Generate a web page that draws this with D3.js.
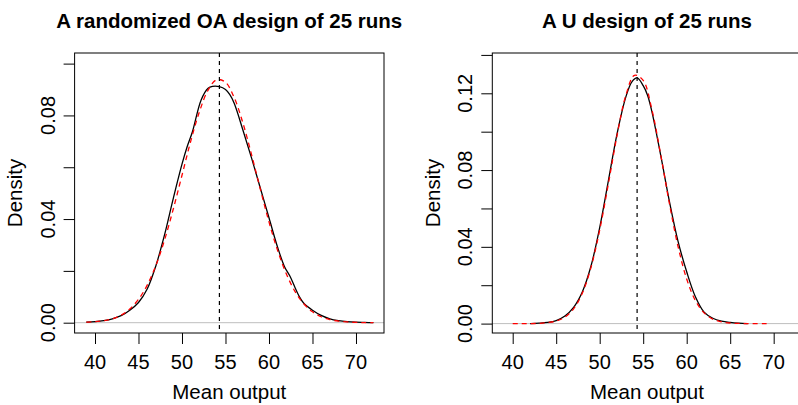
<!DOCTYPE html>
<html>
<head>
<meta charset="utf-8">
<script src="https://cdn.jsdelivr.net/npm/d3@7"></script>
<style>
  body { margin: 0; background: #fff; }
  text { font-family: "Liberation Sans", Arial, Helvetica, sans-serif; fill: #000; }
</style>
</head>
<body>
<div id="chart"></div>
<script>
;(function (d3) {

    'use strict';

    // x ticks are shared by both panels
    var xTicks = [40, 45, 50, 55, 60, 65, 70];
    var meanOutput = 54.3;

    // left panel: randomized OA design
    var oaTitle = 'A randomized OA design of 25 runs';
    var oaYTicks = [0, 0.02, 0.04, 0.06, 0.08, 0.10];
    var oaYLabels = [0, 0.04, 0.08];
    var oaKdeX = [39, 40, 41, 42, 43, 44, 45, 46, 47, 48, 49, 50, 50.6, 51.2, 52.2, 53, 53.5, 54.3,
        55, 55.5, 56, 57, 58, 59, 60, 61, 61.8, 62.4, 63, 63.5, 64, 65, 66, 67, 68, 69, 70, 71, 72];
    var oaKdeY = [0.0002, 0.0004, 0.0008, 0.0015, 0.0027, 0.0048, 0.0078, 0.0130, 0.0220, 0.0340, 0.0480,
        0.0612, 0.0680, 0.0737, 0.0860, 0.0905, 0.0912, 0.0911, 0.0900, 0.0880, 0.0847, 0.0744, 0.0635,
        0.0520, 0.0405, 0.0290, 0.0215, 0.0180, 0.0135, 0.0100, 0.0075, 0.0048, 0.0028, 0.0015, 0.0008,
        0.0004, 0.0002, 0.0001, 0.0000];
    var oaNormX = [39, 40, 41, 42, 43, 44, 45, 46, 47, 48, 49, 50, 51, 52, 53, 54, 55, 56, 57, 58, 59,
        60, 61, 62, 63, 64, 65, 66, 67, 68, 69, 70, 71, 72];
    var oaNormY = [0.0002, 0.0004, 0.0008, 0.0015, 0.0029, 0.0053, 0.0090, 0.0145, 0.0221, 0.0320,
        0.0439, 0.0569, 0.0700, 0.0814, 0.0898, 0.0938, 0.0928, 0.0869, 0.0771, 0.0648, 0.0516, 0.0389,
        0.0278, 0.0188, 0.0120, 0.0073, 0.0042, 0.0023, 0.0012, 0.0006, 0.0003, 0.0001, 0.00005, 0.00002];

    // right panel: U design
    var uTitle = 'A U design of 25 runs';
    var uYTicks = [0, 0.02, 0.04, 0.06, 0.08, 0.10, 0.12, 0.14];
    var uYLabels = [0, 0.04, 0.08, 0.12];
    var uKdeX = [42, 43, 44, 45, 46, 47, 48, 49, 50, 51, 52, 53, 53.7, 54.3, 55, 55.5, 56, 57, 58, 59,
        60, 61, 62, 63, 64, 65, 66, 67];
    var uKdeY = [0.0000, 0.0002, 0.0006, 0.0016, 0.0040, 0.0085, 0.0165, 0.0300, 0.0500, 0.0745, 0.0990,
        0.1180, 0.1260, 0.1280, 0.1240, 0.1190, 0.1105, 0.0880, 0.0640, 0.0430, 0.0270, 0.0140, 0.0060,
        0.0028, 0.0013, 0.0006, 0.0002, 0.0000];
    var uNormX = [40, 41, 42, 43, 44, 45, 46, 47, 48, 49, 50, 51, 52, 53, 54, 55, 56, 57, 58, 59, 60,
        61, 62, 63, 64, 65, 66, 67, 68, 69, 69.5];
    var uNormY = [0.0000, 0.0000, 0.0000, 0.0001, 0.0005, 0.0013, 0.0034, 0.0077, 0.0158, 0.0293,
        0.0488, 0.0729, 0.0982, 0.1188, 0.1294, 0.1267, 0.1115, 0.0883, 0.0629, 0.0403, 0.0232, 0.0120,
        0.0056, 0.0023, 0.0009, 0.0003, 0.0001, 0.0000, 0.0000, 0.0000, 0.0000];

    var W = 798, H = 405;
    var boxW = 309.4, boxTop = 53, boxBottom = 333;
    var xDomain = [37.655, 73.22];

    var svg = d3.select('#chart').append('svg')
        .attr('width', W)
        .attr('height', H);

    function zip(xs, ys) {
        return xs.map(function (x, i) { return [x, ys[i]]; });
    }

    function panel(left, title, yDomain, yTicks, yLabels, kde, norm) {
        var x = d3.scaleLinear().domain(xDomain).range([left, left + boxW]);
        var y = d3.scaleLinear().domain(yDomain).range([boxBottom, boxTop]);
        var g = svg.append('g');

        // zero line
        g.append('line')
            .attr('x1', left).attr('x2', left + boxW)
            .attr('y1', y(0)).attr('y2', y(0))
            .attr('stroke', '#bebebe').attr('stroke-width', 1);

        var line = d3.line()
            .x(function (d) { return x(d[0]); })
            .y(function (d) { return y(d[1]); })
            .curve(d3.curveCatmullRom);

        g.append('path')
            .datum(kde)
            .attr('d', line)
            .attr('fill', 'none')
            .attr('stroke', '#000')
            .attr('stroke-width', 1.3);

        g.append('path')
            .datum(norm)
            .attr('d', line)
            .attr('fill', 'none')
            .attr('stroke', '#ff0000')
            .attr('stroke-width', 1.3)
            .attr('stroke-dasharray', '5,4');

        // mean marker
        g.append('line')
            .attr('x1', x(meanOutput)).attr('x2', x(meanOutput))
            .attr('y1', boxTop).attr('y2', boxBottom)
            .attr('stroke', '#000').attr('stroke-width', 1.2)
            .attr('stroke-dasharray', '4,4');

        // box
        g.append('rect')
            .attr('x', left).attr('y', boxTop)
            .attr('width', boxW).attr('height', boxBottom - boxTop)
            .attr('fill', 'none').attr('stroke', '#000').attr('stroke-width', 1);

        // axes (ticks only, labels drawn separately)
        var xAxis = g.append('g')
            .attr('transform', 'translate(0,' + boxBottom + ')')
            .call(d3.axisBottom(x).tickValues(xTicks).tickSize(11).tickFormat(''));
        var yAxis = g.append('g')
            .attr('transform', 'translate(' + left + ',0)')
            .call(d3.axisLeft(y).tickValues(yTicks).tickSize(11).tickFormat(''));
        [xAxis, yAxis].forEach(function (a) {
            a.select('.domain').remove();
            a.selectAll('line').attr('stroke', '#000');
        });

        g.selectAll('.xlab')
            .data(xTicks)
            .enter().append('text')
            .attr('x', function (d) { return x(d); })
            .attr('y', 368.5)
            .attr('text-anchor', 'middle')
            .attr('font-size', '20px')
            .text(function (d) { return d; });

        g.selectAll('.ylab')
            .data(yLabels)
            .enter().append('text')
            .attr('transform', function (d) {
                return 'translate(' + (left - 20) + ',' + y(d) + ') rotate(-90)';
            })
            .attr('text-anchor', 'middle')
            .attr('font-size', '20px')
            .text(function (d) { return d3.format('.2f')(d); });

        g.append('text')
            .attr('x', left + boxW / 2).attr('y', 399)
            .attr('text-anchor', 'middle')
            .attr('font-size', '20.5px')
            .text('Mean output');

        g.append('text')
            .attr('transform', 'translate(' + (left - 52.5) + ',' + ((boxTop + boxBottom) / 2) + ') rotate(-90)')
            .attr('text-anchor', 'middle')
            .attr('font-size', '20.5px')
            .text('Density');

        g.append('text')
            .attr('x', left + boxW / 2).attr('y', 28)
            .attr('text-anchor', 'middle')
            .attr('font-size', '20.5px')
            .attr('font-weight', 'bold')
            .text(title);
    }

    panel(74.6, oaTitle, [-0.00398, 0.1041], oaYTicks, oaYLabels,
        zip(oaKdeX, oaKdeY), zip(oaNormX, oaNormY));
    panel(492.3, uTitle, [-0.0049, 0.141], uYTicks, uYLabels,
        zip(uKdeX, uKdeY), zip(uNormX, uNormY));

})(d3);
</script>
</body>
</html>
